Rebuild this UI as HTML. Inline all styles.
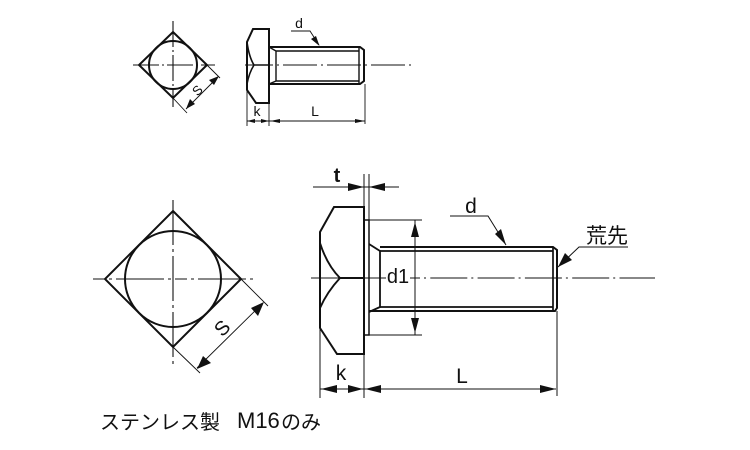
<!DOCTYPE html>
<html><head><meta charset="utf-8"><style>
html,body{margin:0;padding:0;background:#fff}
svg{display:block}
text{font-family:"Liberation Sans","Noto Sans CJK JP",sans-serif;fill:#111}
</style></head><body>
<svg width="750" height="450" viewBox="0 0 750 450" xmlns="http://www.w3.org/2000/svg">
<!-- small diamond -->
<g fill="none" stroke="#111">
<path d="M173 32L207 65L173 98L139 65Z" stroke-width="2"/>
<circle cx="173" cy="65" r="24" stroke-width="2"/>
<path d="M173 21V107M133 65H215" stroke-width="1.100" stroke-dasharray="26 3 2 3"/>
<path d="M207 65L220 78M173 98L187 113M217 78L186 109" stroke-width=".9"/>
</g>
<path d="M219 76L209 80L214 85ZM186 109L190 99L195 104Z" fill="#111"/>
<text x="197" y="95" font-size="13" text-anchor="middle" transform="rotate(-45 197 90)">S</text>

<!-- small bolt -->
<g fill="none" stroke="#111">
<path d="M253 29H269V103H256L247 90V42Z" stroke-width="2"/>
<path d="M247 42Q249 57 254 65L269 65M254 65Q249 73 247 84" stroke-width="1.600"/>
<path d="M269 47H360L364 50V81L360 84H269" stroke-width="2"/>
<path d="M276 51H359M276 81H359M269 47L276 51V81L269 84M359 47V84" stroke-width="1.400"/>
<path d="M245 65H415" stroke-width="1" stroke-dasharray="34 4 2 4" stroke-dashoffset="6"/>
<path d="M291 31H310L319 45" stroke-width=".9"/>
<path d="M247 90V126M269 103V126M365 84V124M247 121H269M269 121H365" stroke-width=".9"/>
</g>
<path d="M319.500 46L311 39L316 36Z" fill="#111"/>
<path d="M247 121L255 119V123ZM269 121L261 119V123ZM270 121L280 119V123ZM365 121L355 119V123Z" fill="#111"/>
<text x="299" y="28" font-size="14" text-anchor="middle">d</text>
<text x="257" y="116" font-size="14" text-anchor="middle">k</text>
<text x="315" y="116" font-size="14" text-anchor="middle">L</text>

<!-- large diamond -->
<g fill="none" stroke="#111">
<path d="M173 211L241 279L173 347L105 279Z" stroke-width="2"/>
<circle cx="173" cy="279" r="48" stroke-width="2"/>
<path d="M173 200V365" stroke-width="1.100" stroke-dasharray="45 4 3 4"/>
<path d="M93 279H257" stroke-width="1.100" stroke-dasharray="12 4 3 4 48 4 3 4"/>
<path d="M241 279L268 306M173 347L200 373M263 303L197 368" stroke-width=".9"/>
</g>
<path d="M264 302L251 308L258 316ZM197 369L203 356L211 363Z" fill="#111"/>
<text x="222" y="335" font-size="20" text-anchor="middle" transform="rotate(-45 222 328)">S</text>

<!-- large bolt -->
<g fill="none" stroke="#111">
<path d="M334 207H364V354H337L320 328V232Z" stroke-width="2"/>
<path d="M320 243Q327 265 340 278H364M340 278Q327 292 320 308" stroke-width="1.900"/>
<path d="M364 220H369V335H364" stroke-width="1.500"/>
<path d="M369 244L380 251V307L369 312" stroke-width="1.800"/>
<path d="M380 247H553L557 250V308L555 311H369" stroke-width="2"/>
<path d="M380 251H553M380 307H553M553 247V311" stroke-width="1.700"/>
<path d="M311 278H369" stroke-width="1.100"/>
<path d="M369 278H386M410 278H420" stroke-width="1.100"/>
<path d="M420 278H655" stroke-width="1.100" stroke-dasharray="37 4 2 4.300" stroke-dashoffset="37"/>
<path d="M364 174V207M369 174V220M313 187H399" stroke-width="1"/>
<path d="M369 220H422M369 335H422M415 220V335" stroke-width="1"/>
<path d="M320 328V398M364 354V398M320 389H556M557 311V396" stroke-width="1"/>
<path d="M450 216H488L506 245" stroke-width="1"/>
<path d="M628 247H579L558 267" stroke-width="1"/>
</g>
<path d="M364 187L348 183V191ZM369 187L385 183V191Z" fill="#111"/>
<path d="M415 222L411 237H419ZM415 333L411 318H419Z" fill="#111"/>
<path d="M321 389L337 385V393ZM363 389L348 385V393ZM365 389L381 385V393ZM556 389L540 385V393Z" fill="#111"/>
<path d="M506 245L495 234L501 229Z" fill="#111"/>
<path d="M558 267L565 253L572 260Z" fill="#111"/>
<text x="337" y="182" font-size="20" font-weight="700" text-anchor="middle">t</text>
<text x="398" y="283" font-size="20" text-anchor="middle">d1</text>
<text x="341" y="380" font-size="21" text-anchor="middle">k</text>
<text x="462" y="383" font-size="21" text-anchor="middle">L</text>
<text x="471" y="213" font-size="21" text-anchor="middle">d</text>
<text x="586" y="243" font-size="21">荒先</text>
<text x="100" y="429" font-size="20">ステンレス製</text>
<text x="237" y="428" font-size="22">M16</text>
<text x="281" y="429" font-size="20">のみ</text>
</svg>
</body></html>
